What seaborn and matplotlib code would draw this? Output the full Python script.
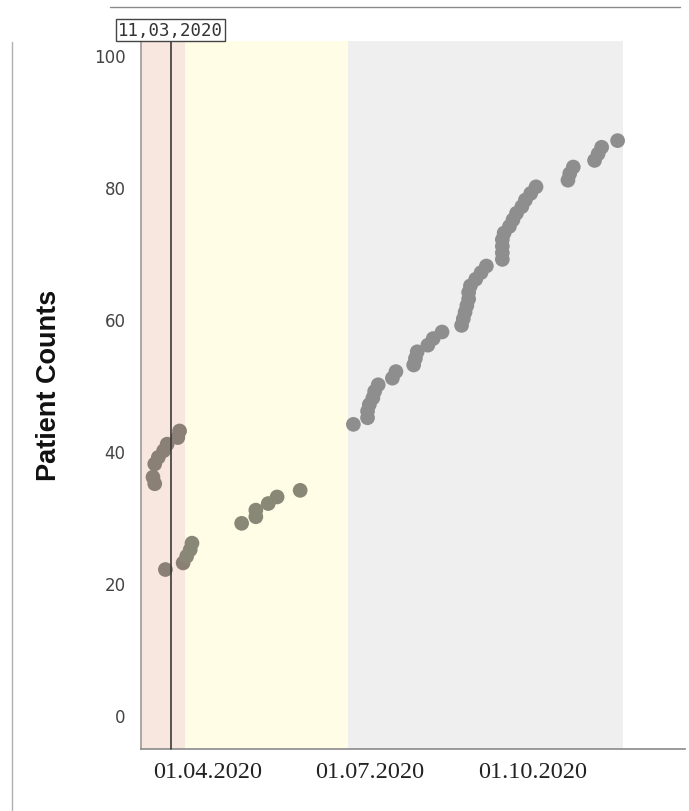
import numpy as np
import pandas as pd
import matplotlib
matplotlib.use("Agg")
import matplotlib.pyplot as plt
import matplotlib.dates as mdates
import matplotlib.transforms as mtransforms
import seaborn as sns

# ---- data ----
dates = [
    "2020-03-01", "2020-03-02", "2020-03-02", "2020-03-04", "2020-03-07", "2020-03-09",
    "2020-03-15", "2020-03-16", "2020-03-08", "2020-03-18", "2020-03-20", "2020-03-22",
    "2020-03-23",
    "2020-04-20", "2020-04-28", "2020-04-28", "2020-05-05", "2020-05-10", "2020-05-23",
    "2020-06-22", "2020-06-30", "2020-06-30", "2020-07-01", "2020-07-03", "2020-07-04",
    "2020-07-06", "2020-07-14", "2020-07-16", "2020-07-26", "2020-07-27", "2020-07-28",
    "2020-08-03", "2020-08-06", "2020-08-11", "2020-08-22", "2020-08-23", "2020-08-24",
    "2020-08-25", "2020-08-26", "2020-08-26", "2020-08-27", "2020-08-30", "2020-09-02",
    "2020-09-05", "2020-09-14", "2020-09-14", "2020-09-14", "2020-09-14", "2020-09-15",
    "2020-09-18", "2020-09-20", "2020-09-22", "2020-09-25", "2020-09-27", "2020-09-30",
    "2020-10-03", "2020-10-21", "2020-10-22", "2020-10-24", "2020-11-05", "2020-11-07",
    "2020-11-09", "2020-11-18",
]
counts = [
    36, 35, 38, 39, 40, 41, 42, 43, 22, 23, 24, 25, 26,
    29, 30, 31, 32, 33, 34,
    44, 45, 46, 47, 48, 49, 50, 51, 52, 53, 54, 55, 56, 57, 58, 59,
    60, 61, 62, 63, 64, 65, 66, 67, 68,
    69, 70, 71, 72, 73, 74, 75, 76, 77, 78, 79, 80,
    81, 82, 83, 84, 85, 86, 87,
]
phase_names = ["Phase 1", "Phase 2", "Phase 3"]
phase_starts = ["2020-02-23", "2020-03-19", "2020-06-19"]
phase_ends = ["2020-03-19", "2020-06-19", "2020-11-21"]
phase_bg = ["#f8e7df", "#fffde6", "#efefef"]
phase_pt = ["#8a8076", "#898775", "#8e8e8e"]
event_date = "2020-03-11"
event_label = "11,03,2020"
xticks = ["2020-04-01", "2020-07-01", "2020-10-01"]
yticks = [0, 20, 40, 60, 80, 100]

df = pd.DataFrame({"date": pd.to_datetime(dates), "count": counts})
bounds = pd.to_datetime(phase_ends)
df["phase"] = np.select(
    [df["date"] < bounds[0], df["date"] < bounds[1]],
    [phase_names[0], phase_names[1]],
    default=phase_names[2],
)

# ---- figure ----
sns.set_theme(style="white")
fig = plt.figure(figsize=(6.89, 8.12), dpi=100)
ax = fig.add_axes([141 / 689, 62 / 812, 544 / 689, 708 / 812])

for s, e, c in zip(phase_starts, phase_ends, phase_bg):
    ax.axvspan(pd.Timestamp(s), pd.Timestamp(e), color=c, lw=0, zorder=0)

sns.scatterplot(
    data=df, x="date", y="count", hue="phase",
    palette=dict(zip(phase_names, phase_pt)),
    s=112, edgecolor="none", linewidth=0, legend=False, ax=ax, zorder=3,
)

ax.set_xlim(pd.Timestamp("2020-02-23 06:00"), pd.Timestamp("2020-12-26"))
ax.set_ylim(-5.2, 102.1)

ev = pd.Timestamp(event_date)
trans = mtransforms.blended_transform_factory(ax.transData, ax.transAxes)
ax.plot([ev, ev], [0, 1.005], transform=trans, color="#3a3a3a", lw=1.2,
        clip_on=False, zorder=4)
ax.text(ev, 1.0155, event_label, transform=trans, ha="center", va="center",
        fontsize=12.5, family="DejaVu Sans Mono", color="#333333",
        bbox=dict(boxstyle="square,pad=0.12", fc="white", ec="#444444", lw=1.0),
        zorder=5, clip_on=False)

ax.set_xticks(pd.to_datetime(xticks))
ax.xaxis.set_major_formatter(mdates.DateFormatter("%d.%m.%Y"))
ax.set_yticks(yticks)
ax.tick_params(axis="x", length=0, pad=9, labelsize=17.5, labelcolor="#222222")
ax.tick_params(axis="y", length=0, pad=11, labelsize=12, labelcolor="#444444")
for lab in ax.get_xticklabels():
    lab.set_family("Liberation Serif")
for lab in ax.get_yticklabels():
    lab.set_family("DejaVu Sans")

ax.set_xlabel("")
ax.set_ylabel("Patient Counts", fontsize=19.5, fontweight="bold",
              family="Liberation Sans", color="#111111")
ax.yaxis.set_label_coords(-0.145, 0.515)

for side in ["top", "right"]:
    ax.spines[side].set_visible(False)
ax.spines["left"].set_color("#9a9a9a")
ax.spines["left"].set_linewidth(1.2)
ax.spines["bottom"].set_color("#8a8a8a")
ax.spines["bottom"].set_linewidth(1.2)
ax.grid(False)

# screenshot frame lines
fig.add_artist(plt.Line2D([110 / 689, 680 / 689], [1 - 8 / 812, 1 - 8 / 812],
                          transform=fig.transFigure, color="#8a8a8a", lw=1.0))
fig.add_artist(plt.Line2D([12 / 689, 12 / 689], [0, 1 - 43 / 812],
                          transform=fig.transFigure, color="#b0b0b0", lw=1.0))

fig.savefig("out.png", dpi=100, facecolor="white")
